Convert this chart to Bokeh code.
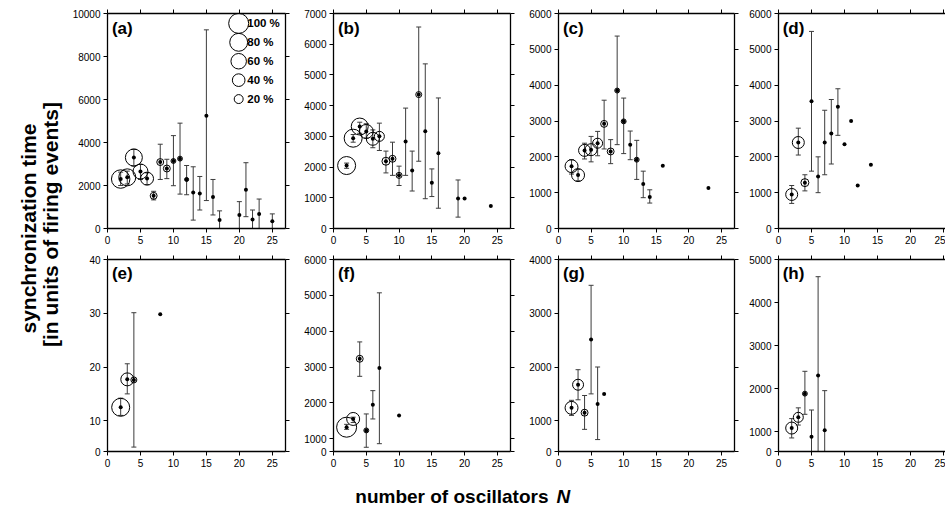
import math
from bokeh.plotting import figure
from bokeh.layouts import row, column
from bokeh.models import (LinearAxis, FixedTicker, Label, Range1d)
from bokeh.embed import file_html
from bokeh.resources import INLINE
from bokeh.core.properties import value

FONT = "Liberation Sans"

# ---------------- data ----------------
# panel (a)
N_a = [2, 3, 4, 5, 6, 7, 8, 9, 10, 11, 12, 13, 14, 15, 16, 17, 20, 21, 22, 23, 25]
T_a = [2300, 2380, 3300, 2650, 2320, 1520, 3090, 2790, 3140, 3250, 2280, 1680, 1630, 5250, 1460, 400, 630, 1800, 420, 670, 340]
lo_a = [2000, 2070, 2900, 2280, 2040, 1330, 2280, 2320, 1990, 1600, 1570, 390, 860, 1300, 630, 0, 0, 550, 0, 0, 0]
hi_a = [2620, 2670, 3690, 2980, 2590, 1730, 3920, 3220, 4320, 4900, 2930, 2870, 2420, 9240, 2280, 820, 1250, 3060, 860, 1370, 680]
pct_a = [85, 72, 72, 56, 42, 12, 12, 12, 6, 6, 4, 0, 0, 0, 0, 0, 0, 0, 0, 0, 0]

# panel (b)
N_b = [2, 3, 4, 5, 6, 7, 8, 9, 10, 11, 12, 13, 14, 15, 16, 19, 20, 24]
T_b = [2050, 2940, 3320, 3160, 2920, 3000, 2190, 2270, 1730, 2830, 1890, 4360, 3170, 1490, 2450, 980, 980, 730]
lo_b = [1960, 2810, 3100, 2940, 2630, 2540, 1810, 1730, 1400, 1730, 1220, 2190, 970, 1040, 660, 370, None, None]
hi_b = [2130, 3060, 3460, 3410, 3210, 3430, 2520, 2810, 2030, 3920, 2520, 6560, 5360, 1940, 4250, 1580, None, None]
pct_b = [81, 81, 72, 49, 42, 25, 16, 12, 9, 0, 0, 9, 0, 0, 0, 0, 0, 0]

# panel (c)
N_c = [2, 3, 4, 5, 6, 7, 8, 9, 10, 11, 12, 13, 14, 16, 23]
T_c = [1740, 1490, 2180, 2200, 2380, 2920, 2150, 3850, 2990, 2340, 1920, 1240, 880, 1750, 1130]
lo_c = [1520, 1330, 1940, 1860, 2030, 2220, 1810, 2340, 2090, 1920, 1370, 860, 710, None, None]
hi_c = [1920, 1650, 2380, 2570, 2710, 3580, 2480, 5370, 3640, 2720, 2460, 1600, 1080, None, None]
pct_c = [42, 42, 36, 36, 25, 12, 12, 6, 6, 0, 6, 0, 0, 0, 0]

# panel (d)
N_d = [2, 3, 4, 5, 6, 7, 8, 9, 10, 11, 12, 14]
T_d = [950, 2400, 1280, 3550, 1450, 2400, 2650, 3400, 2350, 3000, 1200, 1780]
lo_d = [700, 2050, 1050, 1600, 1000, 1500, 1800, 2600, None, None, None, None]
hi_d = [1200, 2800, 1500, 5500, 2000, 3300, 3600, 3900, None, None, None, None]
pct_d = [36, 36, 16, 0, 0, 0, 0, 0, 0, 0, 0, 0]

# panel (e)
N_e = [2, 3, 4, 8]
T_e = [12.5, 17.7, 17.6, 29.8]
lo_e = [11.0, 15.0, 5.1, None]
hi_e = [14.2, 20.6, 30.1, None]
pct_e = [81, 42, 9, 0]

# panel (f)
N_f = [2, 3, 4, 5, 6, 7, 10]
T_f = [1320, 1550, 3230, 1230, 1950, 2970, 1650]
lo_f = [1260, 1450, 2740, 760, 1550, 860, None]
hi_f = [1400, 1600, 3700, 1690, 2340, 5070, None]
pct_f = [100, 42, 12, 6, 0, 0, 0]

# panel (g)
N_g = [2, 3, 4, 5, 6, 7]
T_g = [1240, 1670, 1150, 2510, 1310, 1500]
lo_g = [1100, 1390, 840, 1500, 650, None]
hi_g = [1380, 1950, 1470, 3520, 2000, None]
pct_g = [42, 30, 12, 0, 0, 0]

# panel (h)
N_h = [2, 3, 4, 5, 6, 7]
T_h = [1080, 1330, 1880, 880, 2300, 1030]
lo_h = [850, 1150, 1400, 300, 0, 100]
hi_h = [1300, 1550, 2400, 1500, 4600, 1950]
pct_h = [36, 25, 6, 0, 0, 0]

legend_pct = [100, 80, 60, 40, 20]
legend_txt = ["100 %", "80 %", "60 %", "40 %", "20 %"]

x_ticks = [0, 5, 10, 15, 20, 25]
y_limits = {"a": (10000, 2000), "b": (7000, 1000), "c": (6000, 1000), "d": (6000, 1000),
            "e": (40, 10), "f": (6000, 1000), "g": (4000, 1000), "h": (5000, 1000)}

BAR = "#3c3c3c"


def diam(p):
    return 2.0 * math.sqrt(p)


def make_axis(ticks, show_labels, overrides=None):
    ax = LinearAxis(ticker=FixedTicker(ticks=ticks),
                    axis_line_width=1.3, axis_line_color="black",
                    major_tick_out=4, major_tick_in=0,
                    minor_tick_out=0, minor_tick_in=0,
                    major_tick_line_color="black",
                    major_label_text_font=FONT,
                    major_label_text_color="black")
    if show_labels:
        ax.major_label_text_font_size = "10px"
        ax.major_label_standoff = 3
        if overrides:
            ax.major_label_overrides = overrides
    else:
        ax.major_label_text_font_size = "0px"
        ax.major_label_standoff = 0
    return ax


def panel(key, N, T, lo, hi, pct, fw, fh, bl, br, bt, bb, xmax, ystart_frac=0.0,
          right=True, legend=False):
    ymax, ystep = y_limits[key]
    ystart = ymax * ystart_frac
    p = figure(width=bl + fw + br, height=bt + fh + bb,
               x_range=Range1d(0, xmax), y_range=Range1d(ystart, ymax),
               x_axis_type=None, y_axis_type=None,
               output_backend="svg", toolbar_location=None,
               min_border_left=bl, min_border_right=br,
               min_border_top=bt, min_border_bottom=bb)
    p.outline_line_color = None
    p.background_fill_color = "white"
    p.border_fill_color = "white"

    yt = [ystep * k for k in range(1, int(round(ymax / ystep)) + 1)]
    if ystart_frac > 0:
        yticks = [ystart] + yt
        over = {ystart: "0"}
    else:
        yticks = [0] + yt
        over = None
    p.add_layout(make_axis(x_ticks, True), "below")
    p.add_layout(make_axis(yticks, True, over), "left")
    p.add_layout(make_axis(x_ticks, False), "above")
    if right:
        p.add_layout(make_axis(yticks, False), "right")

    # error bars: vertical segment + caps
    ex = [n for n, l in zip(N, lo) if l is not None]
    el = [l for l in lo if l is not None]
    eh = [h for h in hi if h is not None]
    p.segment(x0=ex, y0=el, x1=ex, y1=eh, line_color=BAR, line_width=1)
    cap_x = ex + [x for x, l in zip(ex, el) if l >= ystart]
    cap_y = eh + [l for l in el if l >= ystart]
    p.scatter(x=cap_x, y=cap_y, marker="dash", size=5, line_color=BAR, line_width=1)

    # circles sized by percentage
    cx = [n for n, q in zip(N, pct) if q > 0]
    cy = [t for t, q in zip(T, pct) if q > 0]
    cs = [diam(q) for q in pct if q > 0]
    p.scatter(x=cx, y=cy, size=cs, marker="circle", fill_color=None,
              line_color="black", line_width=1)
    # central dots
    p.scatter(x=N, y=T, size=4, marker="circle", fill_color="black", line_color=None)

    p.add_layout(Label(x=xmax * 0.025, y=ymax - (ymax - ystart) * 0.025, text="(" + key + ")",
                       text_font=FONT, text_font_style="bold", text_font_size="17px",
                       text_baseline="top", text_align="left", text_color="black"))

    if legend:
        lx = [xmax * 0.737] * len(legend_pct)
        ly = [ymax * (0.954 - 0.088 * i) for i in range(len(legend_pct))]
        p.scatter(x=lx, y=ly, size=[diam(q) for q in legend_pct], marker="circle",
                  fill_color=None, line_color="black", line_width=1)
        p.text(x=[xmax * 0.785] * len(legend_pct), y=ly, text=legend_txt,
               text_font=value(FONT), text_font_style="bold", text_font_size="11.5px",
               text_baseline="middle", text_align="left", text_color="black")
    return p


XMAX = 27
XD = 167 / 6.6
FH_TOP = 215
FH_BOT = 192
CUT = 23 / 215  # lower part of the bottom-row value scale that is not shown

pa = panel("a", N_a, T_a, lo_a, hi_a, pct_a, 178, FH_TOP, 42, 5, 13, 27, XMAX, legend=True)
pb = panel("b", N_b, T_b, lo_b, hi_b, pct_b, 177, FH_TOP, 43, 5, 13, 27, XMAX)
pc = panel("c", N_c, T_c, lo_c, hi_c, pct_c, 176, FH_TOP, 43, 5, 13, 27, XMAX)
pd = panel("d", N_d, T_d, lo_d, hi_d, pct_d, 167, FH_TOP, 39, 0, 13, 27, XD, right=False)
pe = panel("e", N_e, T_e, lo_e, hi_e, pct_e, 178, FH_BOT, 42, 5, 4, 24, XMAX, CUT)
pf = panel("f", N_f, T_f, lo_f, hi_f, pct_f, 177, FH_BOT, 43, 5, 4, 24, XMAX, CUT)
pg = panel("g", N_g, T_g, lo_g, hi_g, pct_g, 176, FH_BOT, 43, 5, 4, 24, XMAX, CUT)
ph = panel("h", N_h, T_h, lo_h, hi_h, pct_h, 167, FH_BOT, 39, 0, 4, 24, XD, CUT, right=False)

# y title
yh = 255 + 4 + FH_BOT + 24
yfig = figure(width=65, height=yh, x_range=Range1d(0, 65), y_range=Range1d(0, yh),
              x_axis_type=None, y_axis_type=None, output_backend="svg", toolbar_location=None,
              min_border=0)
yfig.outline_line_color = None
yfig.text(x=[28, 50], y=[yh - 228, yh - 224],
          text=["synchronization time", "[in units of firing events]"],
          angle=math.pi / 2, text_align="center", text_baseline="middle",
          text_font=value(FONT), text_font_style="bold", text_font_size="21px",
          text_color="black")

# x title
xh = 523 - yh
xfig = figure(width=945, height=xh, x_range=Range1d(0, 945), y_range=Range1d(0, xh),
              x_axis_type=None, y_axis_type=None, output_backend="svg", toolbar_location=None,
              min_border=0)
xfig.outline_line_color = None
xfig.text(x=[548], y=[27], text=["number of oscillators"], text_align="right",
          text_baseline="alphabetic", text_font=value(FONT), text_font_style="bold",
          text_font_size="19px", text_color="black")
xfig.text(x=[556], y=[27], text=["N"], text_align="left",
          text_baseline="alphabetic", text_font=value(FONT), text_font_style="bold italic",
          text_font_size="19px", text_color="black")

layout = column(row(yfig, column(row(pa, pb, pc, pd), row(pe, pf, pg, ph))), xfig)

with open("out.html", "w") as f:
    f.write(file_html(layout, INLINE))
